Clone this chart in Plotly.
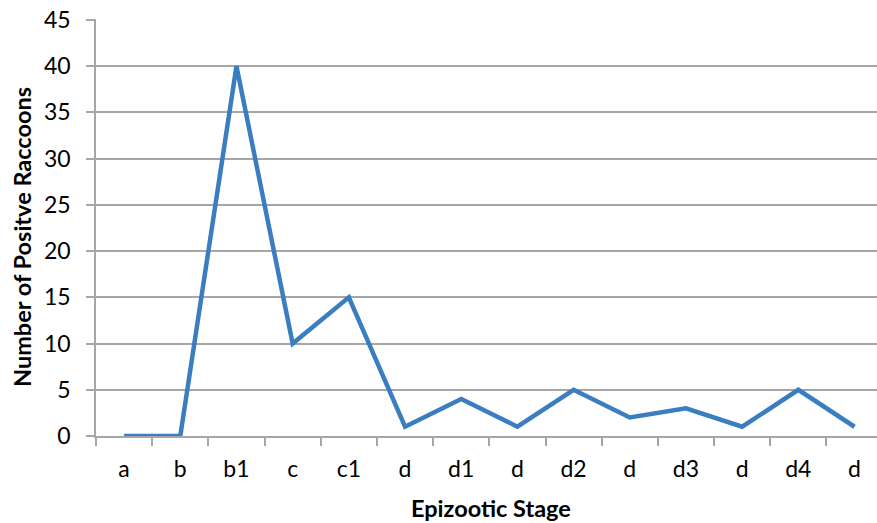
import plotly.graph_objects as go

stages = ["a", "b", "b1", "c", "c1", "d", "d1", "d", "d2", "d", "d3", "d", "d4", "d"]
positives = [0, 0, 40, 10, 15, 1, 4, 1, 5, 2, 3, 1, 5, 1]
y_ticks = [0, 5, 10, 15, 20, 25, 30, 35, 40, 45]

xpos = list(range(len(stages)))
boundaries = [i - 0.5 for i in range(len(stages) + 1)]

FONT = "Lato"
GRID = "#A6A6A6"

fig = go.Figure()
fig.add_trace(go.Scatter(
    x=xpos, y=positives, mode="lines",
    line=dict(color="#3A7DC0", width=4.5),
    cliponaxis=False, hoverinfo="skip"
))

fig.update_layout(
    width=877, height=523,
    margin=dict(l=96, r=0, t=19, b=87),
    paper_bgcolor="white", plot_bgcolor="white",
    showlegend=False,
    font=dict(family=FONT, color="black", size=23),
    xaxis=dict(
        range=[-0.5, 13.4],
        tickmode="array", tickvals=xpos, ticktext=stages,
        ticks="", showgrid=False, automargin=False,
        showline=True, linecolor=GRID, linewidth=1.5,
        tickfont=dict(size=23), ticklabelstandoff=12,
        minor=dict(tickmode="array", tickvals=boundaries, ticks="outside",
                   ticklen=8, tickcolor=GRID, tickwidth=1.5, showgrid=False),
        zeroline=False, fixedrange=True,
    ),
    yaxis=dict(
        range=[0, 45.1],
        tickmode="array", tickvals=y_ticks,
        ticks="outside", ticklen=8, tickcolor=GRID, tickwidth=1.5,
        showgrid=True, gridcolor=GRID, gridwidth=1.5, automargin=False,
        showline=True, linecolor=GRID, linewidth=1.5,
        tickfont=dict(size=23), ticklabelstandoff=11,
        ticklabeloverflow="allow",
        zeroline=False, fixedrange=True,
    ),
    annotations=[
        dict(text="<b>Epizootic Stage</b>", xref="paper", yref="paper",
             x=(491 - 96) / 781, y=-(508 - 436) / 417, xanchor="center", yanchor="middle",
             showarrow=False, font=dict(size=23.5, family=FONT)),
        dict(text="<b>Number of Positve Raccoons</b>", xref="paper", yref="paper",
             x=-(96 - 22) / 781, y=(436 - 237) / 417, xanchor="center", yanchor="middle",
             textangle=-90, showarrow=False, font=dict(size=23.5, family=FONT)),
    ],
)

fig.write_html("out.html", config={"displayModeBar": False},
               post_script="document.body.style.margin='0';")
